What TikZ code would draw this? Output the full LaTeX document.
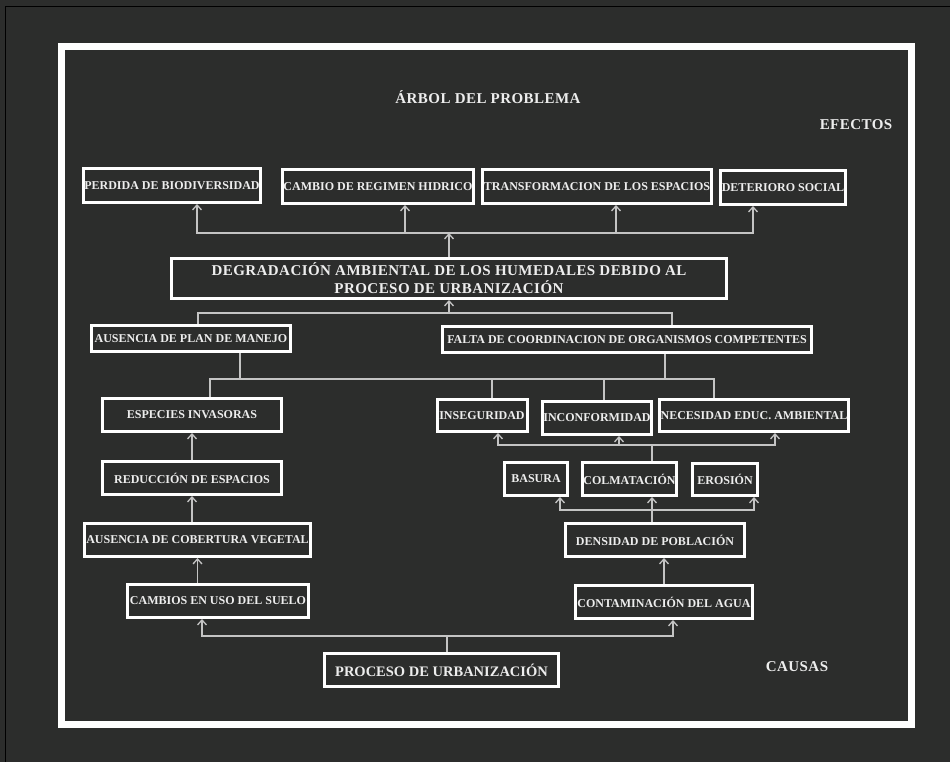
\documentclass[tikz,border=0pt]{standalone}
\usepackage{fontspec}
\setmainfont{Liberation Serif}
\newfontfamily\espaciada[LetterSpace=3]{Liberation Serif}
\usetikzlibrary{arrows}
\usetikzlibrary{arrows.meta}
\definecolor{fondo}{HTML}{2C2D2C}
\definecolor{linea}{HTML}{C4C4C4}
\definecolor{letra}{HTML}{EDEDED}
\tikzset{
  caja/.style={draw=white, line width=3pt, fill=fondo, text=letra, inner sep=1pt,
    align=center, font=\bfseries\fontsize{12}{13}\selectfont},
  cajagrande/.style={caja, font=\espaciada\bfseries\fontsize{15}{18}\selectfont},
  conn/.style={draw=linea, line width=1.3pt},
  rotulo/.style={text=letra, font=\espaciada\bfseries\fontsize{15}{17}\selectfont},
}
\begin{document}
\begin{tikzpicture}[x=1pt, y=-1pt, >={Straight Barb[length=5pt,width=9pt]}]
      \useasboundingbox (0,0) rectangle (950,762);
      \fill[fondo] (0,0) rectangle (950,762);
      \draw[black, line width=1pt] (5,762) -- (5,7) -- (950,7);
      \draw[white, line width=7pt] (61.5,46.5) rectangle (911,724.5);

      \node[rotulo] (titulo) at (488,97) {ÁRBOL DEL PROBLEMA};
      \node[rotulo] (efectos) at (856,125) {EFECTOS};
      \node[rotulo] (causas) at (797,667) {CAUSAS};

      \node[caja, minimum width=175, minimum height=34] (perd) at (172,185.5) {PERDIDA DE BIODIVERSIDAD};
      \node[caja, minimum width=191, minimum height=34] (cambio) at (378,186.5) {CAMBIO DE REGIMEN HIDRICO};
      \node[caja, minimum width=229, minimum height=34] (transf) at (597,186.5) {TRANSFORMACION DE LOS ESPACIOS};
      \node[caja, minimum width=121, minimum height=34] (deter) at (783,187.5) {DETERIORO SOCIAL};
      \node[cajagrande, minimum width=555, minimum height=40] (degr) at (449,278.5)
        {DEGRADACIÓN AMBIENTAL DE LOS HUMEDALES DEBIDO AL\\ PROCESO DE URBANIZACIÓN};
      \node[caja, minimum width=199, minimum height=26] (plan) at (191,338.5) {AUSENCIA DE PLAN DE MANEJO};
      \node[caja, minimum width=369, minimum height=26] (falta) at (627,339.5) {FALTA DE COORDINACION DE ORGANISMOS COMPETENTES};
      \node[caja, minimum width=179, minimum height=33] (especies) at (192,415) {ESPECIES INVASORAS};
      \node[caja, minimum width=90, minimum height=32] (inseg) at (482,415.5) {INSEGURIDAD};
      \node[caja, minimum width=107, minimum height=33] (inconf) at (597,418) {INCONFORMIDAD};
      \node[caja, minimum width=184, minimum height=32] (necesidad) at (754,415.5) {NECESIDAD EDUC. AMBIENTAL};
      \node[caja, minimum width=179, minimum height=33] (reduccion) at (192,478) {REDUCCIÓN DE ESPACIOS};
      \node[caja, minimum width=63, minimum height=33] (basura) at (536,479) {BASURA};
      \node[caja, minimum width=94, minimum height=33] (colmat) at (629.5,479) {COLMATACIÓN};
      \node[caja, minimum width=65, minimum height=32] (erosion) at (725,479.5) {EROSIÓN};
      \node[caja, minimum width=226, minimum height=33] (cobertura) at (197.5,540) {AUSENCIA DE COBERTURA VEGETAL};
      \node[caja, minimum width=179, minimum height=33] (densidad) at (655,540) {DENSIDAD DE POBLACIÓN};
      \node[caja, minimum width=181, minimum height=33] (cambios) at (218,601) {CAMBIOS EN USO DEL SUELO};
      \node[caja, minimum width=177, minimum height=33] (contam) at (664,602) {CONTAMINACIÓN DEL AGUA};
      \node[cajagrande, font=\bfseries\fontsize{14.5}{18}\selectfont, minimum width=234, minimum height=33] (proceso) at (441.5,670) {PROCESO DE URBANIZACIÓN};

      \coordinate (efbus) at (449,233);
      \coordinate (cbus) at (449,313);
      \coordinate (mbus) at (450,379);
      \coordinate (ibus) at (652,445);
      \coordinate (dbus) at (652,510);
      \coordinate (pbus) at (447,636);

      \draw[conn,->] (degr.north) -- (efbus);
      \draw[conn,->] (efbus) -| ([xshift=25]perd.south);
      \draw[conn,->] (efbus) -| ([xshift=27]cambio.south);
      \draw[conn,->] (efbus) -| ([xshift=19]transf.south);
      \draw[conn,->] (efbus) -| ([xshift=-30]deter.south);

      \draw[conn,->] (cbus) -- (degr.south);
      \draw[conn] (cbus) -| ([xshift=7]plan.north);
      \draw[conn] (cbus) -| ([xshift=45]falta.north);

      \draw[conn] ([xshift=49]plan.south) |- (mbus);
      \draw[conn] ([xshift=38]falta.south) |- (mbus);
      \draw[conn] (mbus) -| ([xshift=18]especies.north);
      \draw[conn] (mbus) -| ([xshift=10]inseg.north);
      \draw[conn] (mbus) -| ([xshift=7]inconf.north);
      \draw[conn] (mbus) -| ([xshift=-40]necesidad.north);

      \draw[conn] ([xshift=22.5]colmat.north) -- (ibus);
      \draw[conn,->] (ibus) -| ([xshift=16]inseg.south);
      \draw[conn,->] (ibus) -| ([xshift=22]inconf.south);
      \draw[conn,->] (ibus) -| ([xshift=21]necesidad.south);

      \draw[conn,->] ([xshift=-3]densidad.north) -- ([xshift=22.5]colmat.south);
      \draw[conn,->] (dbus) -| ([xshift=24]basura.south);
      \draw[conn,->] (dbus) -| ([xshift=29]erosion.south);

      \draw[conn,->] (reduccion.north) -- (especies.south);
      \draw[conn,->] (cobertura.north -| reduccion) -- (reduccion.south);
      \draw[conn,->] (cambios.north -| cobertura) -- (cobertura.south);
      \draw[conn,->] (contam.north) -- (contam.north |- densidad.south);

      \draw[conn] ([xshift=5.5]proceso.north) -- (pbus);
      \draw[conn,->] (pbus) -| ([xshift=-16]cambios.south);
      \draw[conn,->] (pbus) -| ([xshift=9]contam.south);
    \end{tikzpicture}
\end{document}
